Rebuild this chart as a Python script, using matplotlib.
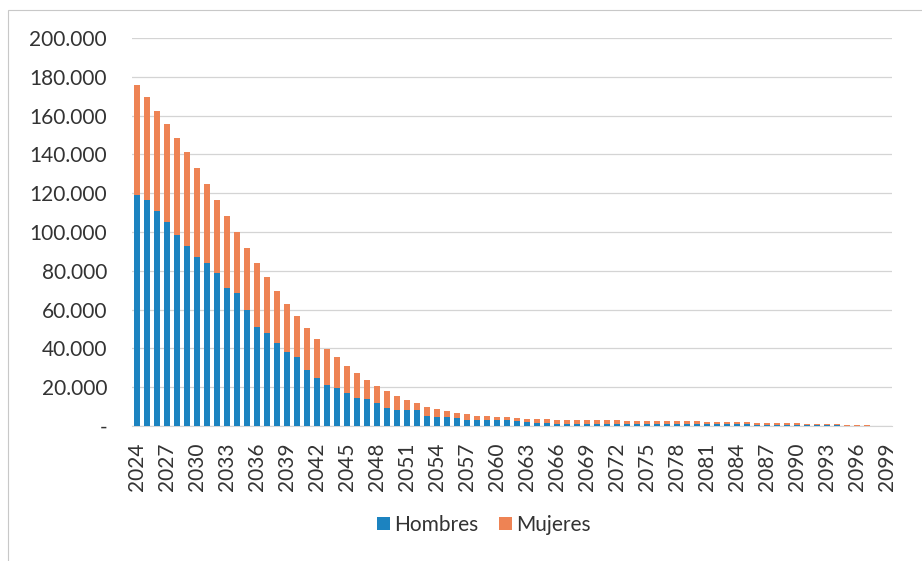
import matplotlib
matplotlib.use("Agg")
import matplotlib.pyplot as plt
from matplotlib.ticker import FuncFormatter
import numpy as np

years = list(range(2024, 2100))

total_k = [175.8, 169.4, 162.4, 155.7, 148.4, 141.0, 133.0, 124.7, 116.5, 108.4,
           100.0, 92.0, 84.0, 76.6, 69.6, 62.9, 56.7, 50.5, 44.7, 39.7,
           35.4, 30.9, 27.1, 23.7, 20.6, 18.0, 15.6, 13.4, 11.7, 10.0,
           8.6, 7.7, 6.5, 6.0, 5.3, 5.0, 4.8, 4.5, 4.0, 3.6,
           3.4, 3.4, 3.1, 3.1, 3.0, 3.1, 3.0, 3.0, 3.0, 2.8,
           2.8, 2.8, 2.7, 2.6, 2.6, 2.7, 2.6, 2.2, 2.1, 2.0,
           2.0, 2.0, 1.7, 1.5, 1.5, 1.4, 1.3, 1.2, 1.2, 1.0,
           0.9, 0.6, 0.4, 0.3, 0.2, 0.1]

hombres_k = [119.0, 116.5, 111.0, 105.0, 98.5, 93.0, 87.0, 84.0, 79.0, 71.0,
             68.5, 60.0, 51.0, 48.0, 42.8, 38.3, 35.5, 29.0, 25.0, 21.0,
             19.4, 17.0, 14.3, 14.0, 12.0, 9.5, 8.3, 8.2, 8.0, 5.0,
             4.8, 4.5, 4.2, 3.2, 2.9, 3.3, 3.2, 3.0, 2.6, 2.2,
             1.4, 1.4, 1.2, 1.2, 1.2, 1.2, 1.2, 1.2, 1.2, 1.1,
             1.1, 1.1, 1.0, 1.0, 1.0, 1.0, 1.0, 0.9, 0.8, 0.8,
             0.8, 0.8, 0.7, 0.6, 0.6, 0.5, 0.5, 0.5, 0.5, 0.4,
             0.35, 0.25, 0.15, 0.1, 0.08, 0.04]

hombres = np.array(hombres_k) * 1000
mujeres = (np.array(total_k) - np.array(hombres_k)) * 1000

c_h = "#1c83c0"
c_m = "#ee8354"

plt.rcParams['font.family'] = ['Lato', 'DejaVu Sans']

fig = plt.figure(figsize=(9.22, 5.61), dpi=100)
fig.add_artist(plt.Rectangle((8/922, -0.1), 1.2, 1 - 10/561 + 0.1, transform=fig.transFigure,
                             fill=False, edgecolor="#c8c8c8", lw=0.8))
ax = fig.add_axes([132/922, 1 - 426/561, 760/922, (426 - 38)/561])

ax.bar(years, hombres, width=0.6, color=c_h, label="Hombres", zorder=3)
ax.bar(years, mujeres, width=0.6, bottom=hombres, color=c_m, label="Mujeres", zorder=3)

ax.set_xlim(2023.5, 2099.5)
ax.set_ylim(0, 200000)
ax.set_yticks(np.arange(0, 200001, 20000))

def fmt(v, pos):
    if v == 0:
        return "-"
    return f"{int(v):,}".replace(",", ".")
ax.yaxis.set_major_formatter(FuncFormatter(fmt))
ax.grid(axis="y", color="#d4d4d4", lw=0.9, zorder=0)

ax.set_xticks(years[::3])
ax.set_xticklabels([str(y) for y in years[::3]], rotation=90)
ax.tick_params(axis="both", length=0, labelsize=15, colors="#333333")
ax.tick_params(axis="y", pad=18)
ax.tick_params(axis="x", pad=12)
for s in ["top", "right", "left"]:
    ax.spines[s].set_visible(False)
ax.spines["bottom"].set_color("#d4d4d4")

leg = fig.legend(loc="center", bbox_to_anchor=(484/922, 1 - 525/561), ncol=2, frameon=False,
                 fontsize=15, handlelength=0.6, handleheight=0.6, handletextpad=0.2,
                 columnspacing=1.0)
for t in leg.get_texts():
    t.set_color("#333333")

fig.savefig("out.png", dpi=100)
